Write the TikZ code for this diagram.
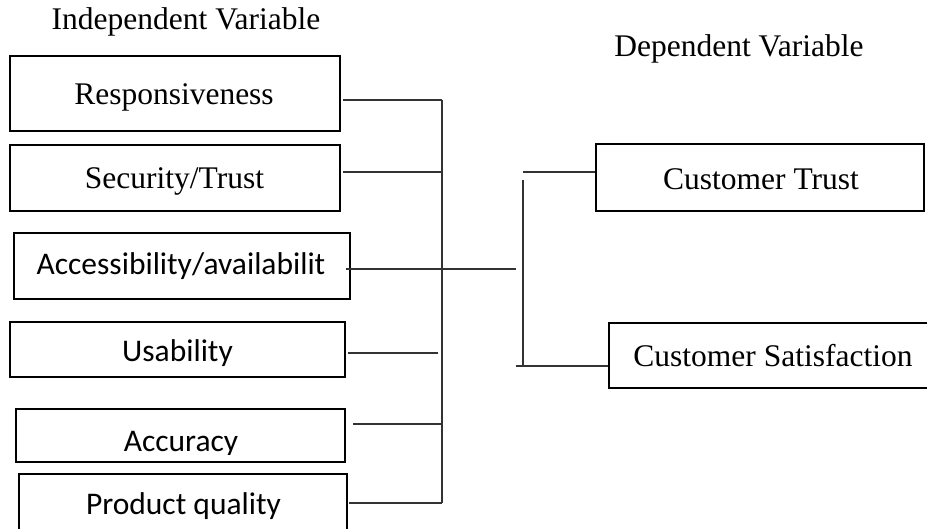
\documentclass[tikz,border=0pt]{standalone}
\usepackage{fontspec}
\setmainfont{Liberation Serif}
\newfontfamily\sansf{Carlito}
\usetikzlibrary{calc}
\begin{document}
\begin{tikzpicture}[x=1pt,y=-1pt,
  box/.style={draw=black,line width=2pt,inner sep=0pt,fill=none},
  link/.style={draw=black!80,line width=1.2pt},
  txt/.style={anchor=base,inner sep=0pt},
  sertxt/.style={txt,font=\fontsize{31.5}{38}\selectfont},
  sanstxt/.style={txt,font=\sansf\fontsize{31.5}{38}\selectfont}]
\useasboundingbox (0,0) rectangle (927,529);

% headings
\node[sertxt] (indep) at (186,30) {Independent Variable};
\node[sertxt] (dep) at (739,56.7) {Dependent Variable};

% independent variables
\node[box,minimum width=330pt,minimum height=75pt] (resp) at (175,93.5) {};
\node[box,minimum width=330pt,minimum height=66pt] (sec) at (175,178) {};
\node[box,minimum width=336pt,minimum height=66pt] (acc) at (182,266) {};
\node[box,minimum width=335pt,minimum height=55pt] (usa) at (177.5,349.5) {};
\node[box,minimum width=329pt,minimum height=53pt] (accu) at (180.5,435.5) {};
\node[box,minimum width=328pt,minimum height=58pt] (prod) at (183,503) {};

\node[sertxt] (respt) at (174,105) {Responsiveness};
\node[sertxt] (sect) at (174.5,188.3) {Security/Trust};
\node[sanstxt] (acct) at (181,275) {Accessibility/availabilit};
\node[sanstxt] (usat) at (177.5,362) {Usability};
\begin{scope}
  \clip (accu.north west) rectangle ($(accu.south east)+(0,-9)$);
  \node[sanstxt] (accut) at (181,451) {Accuracy};
\end{scope}
\node[sanstxt] (prodt) at (183.5,514) {Product quality};

% dependent variables
\node[box,minimum width=328pt,minimum height=67pt] (ct) at (760,177.5) {};
\node[box,minimum width=331pt,minimum height=65pt] (cs) at (774.5,355.5) {};
\node[sertxt] (ctt) at (761,189.5) {Customer Trust};
\node[sertxt] (cst) at (773,366.7) {Customer Satisfaction};

% junction points
\coordinate (j1) at (442,100);
\coordinate (j2) at (442,172);
\coordinate (j4) at (438,353);
\coordinate (j5) at (443,424);
\coordinate (j6) at (442,503);
\coordinate (hub) at (516,269);
\coordinate (ctj) at (523,172);
\coordinate (rTop) at (523,180);
\coordinate (rBot) at (523,366);
\coordinate (csj) at (516,366);

% left bracket
\draw[link] (j1) -- (j6);
\draw[link] (resp.east |- j1) ++(2,0) -- (j1);
\draw[link] (sec.east |- j2) ++(2,0) -- (j2);
\draw[link] (acc.east |- hub) ++(-5,0) -- (hub);
\draw[link] (usa.east |- j4) ++(2,0) -- (j4);
\draw[link] (accu.east |- j5) ++(7,0) -- (j5);
\draw[link] (prod.east |- j6) ++(1,0) -- (j6);

% right bracket
\draw[link] (rTop) -- (rBot);
\draw[link] (ctj) -- (ct.west |- ctj);
\draw[link] (csj) -- (cs.west |- csj);
\end{tikzpicture}
\end{document}
